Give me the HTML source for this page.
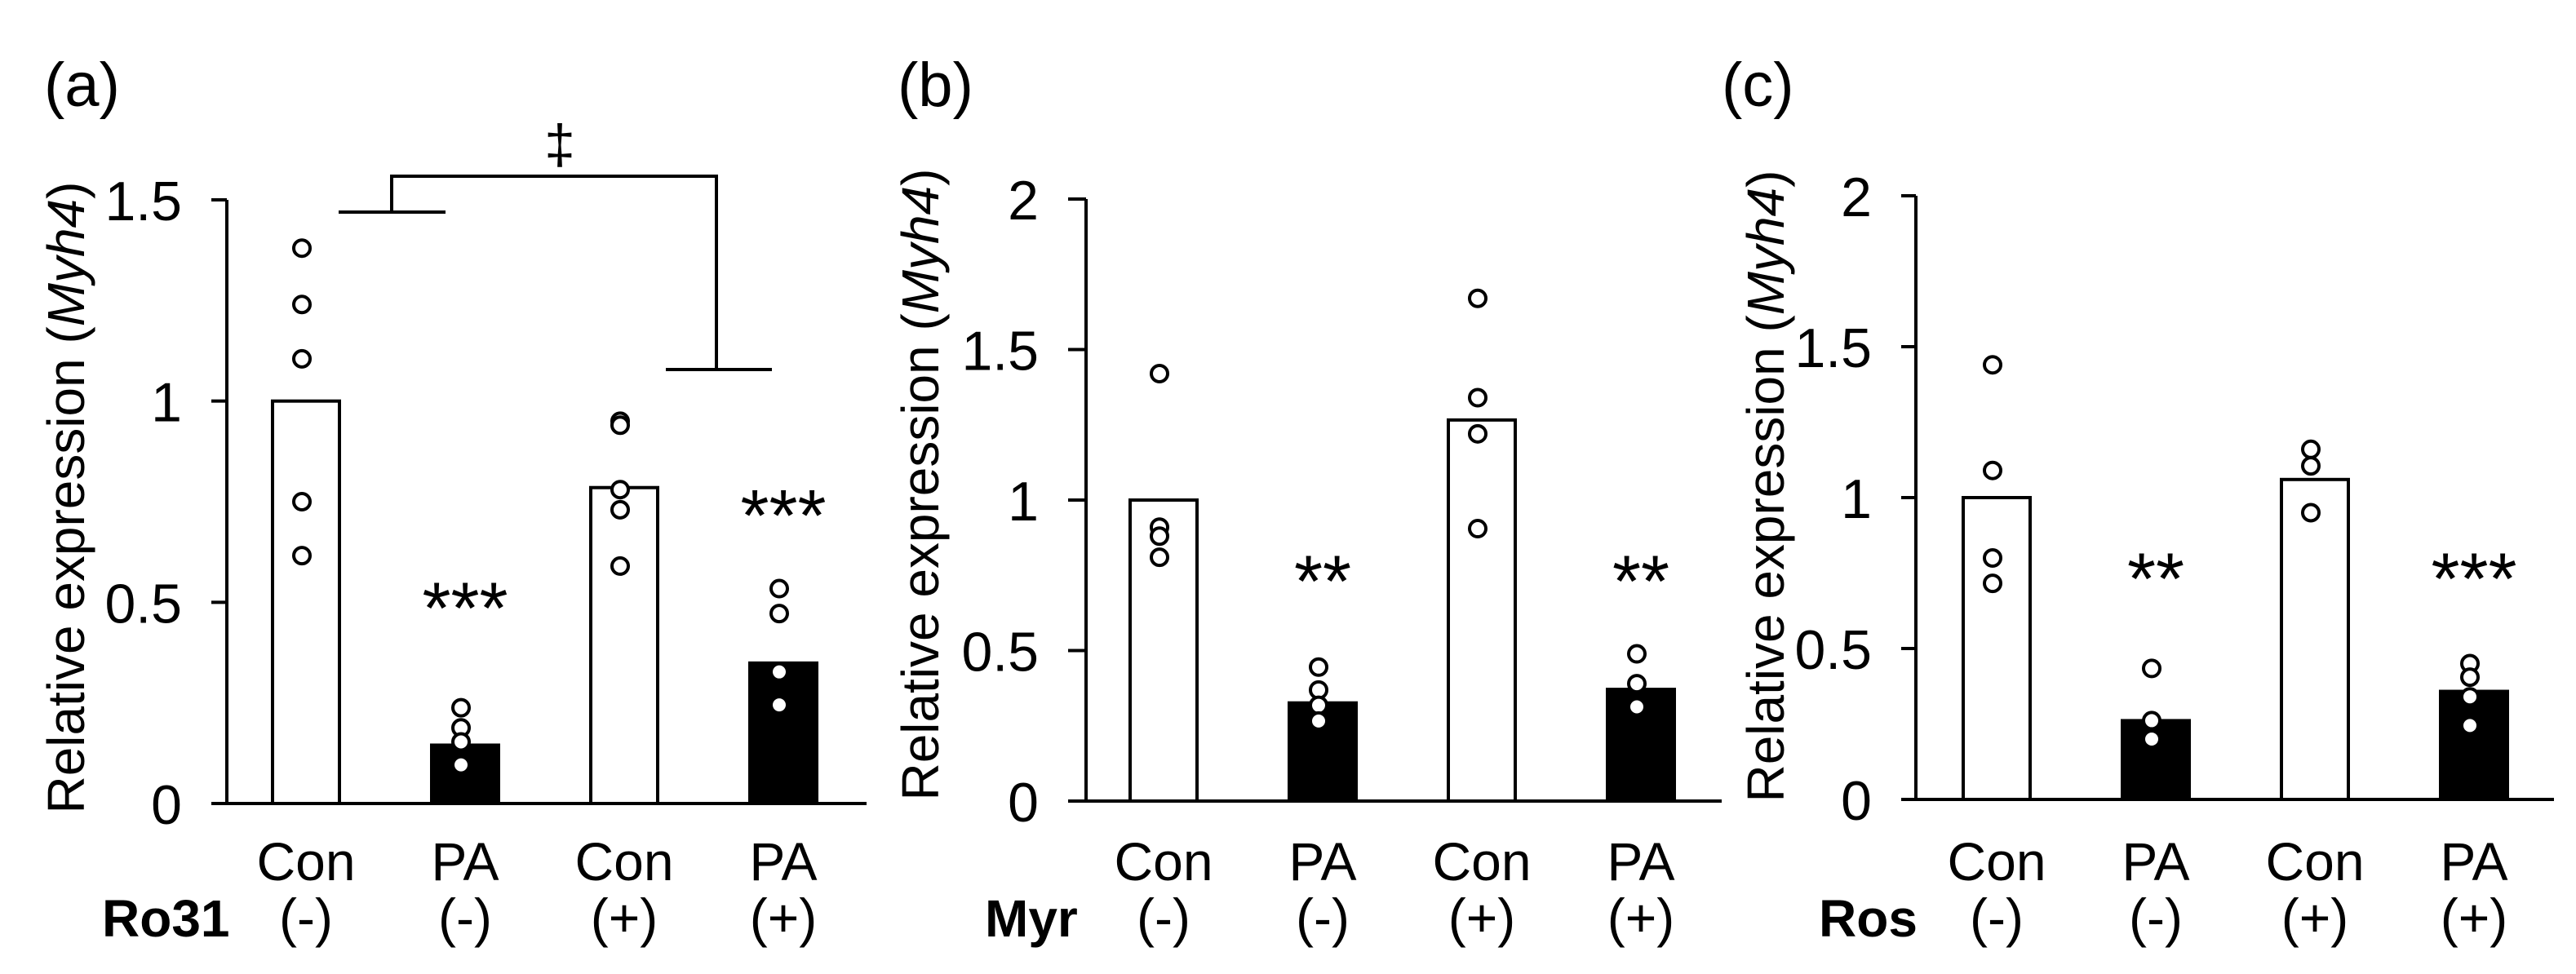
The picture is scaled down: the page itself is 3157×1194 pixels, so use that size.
<!DOCTYPE html>
<html><head><meta charset="utf-8"><style>
html,body{margin:0;padding:0;background:#fff;}
svg{display:block;font-family:"Liberation Sans",Arial,sans-serif;}
</style></head><body>
<svg id="fig" width="3157" height="1194" viewBox="0 0 3157 1194" xmlns="http://www.w3.org/2000/svg"></svg>
<script>
const categories = ["Con","PA","Con","PA"];
const treatLabels = ["(-)","(-)","(+)","(+)"];
const panelLetters = ["(a)","(b)","(c)"];
const drugNames = ["Ro31","Myr","Ros"];
const barMeansA = [1.0,0.145,0.785,0.349];
const barMeansB = [1.0,0.326,1.266,0.371];
const barMeansC = [1.0,0.261,1.06,0.358];
const pointsA = [[1.38,1.24,1.105,0.75,0.616],[0.238,0.188,0.153,0.096],[0.95,0.94,0.78,0.73,0.59],[0.534,0.472,0.327,0.245]];
const pointsB = [[1.42,0.91,0.88,0.81],[0.445,0.369,0.318,0.266],[1.67,1.34,1.22,0.905],[0.489,0.39,0.313]];
const pointsC = [[1.44,1.09,0.80,0.716],[0.434,0.261,0.20],[1.16,1.105,0.95],[0.45,0.405,0.34,0.245]];
const starsA = ["","***","","***"];
const starsB = ["","**","","**"];
const starsC = ["","**","","***"];
const starLevelsA = [0,0.5,0,0.73];
const starLevelsB = [0,0.75,0,0.75];
const starLevelsC = [0,0.75,0,0.75];
const ticksA = [0,0.5,1,1.5];
const ticksB = [0,0.5,1,1.5,2];
const ticksC = [0,0.5,1,1.5,2];
const tickLabelsA = ["0","0.5","1","1.5"];
const tickLabelsB = ["0","0.5","1","1.5","2"];
const tickLabelsC = ["0","0.5","1","1.5","2"];

const NS="http://www.w3.org/2000/svg";
const svg=document.getElementById('fig');
function mk(tag,attrs,parent){const e=document.createElementNS(NS,tag);for(const k in attrs)e.setAttribute(k,attrs[k]);(parent||svg).appendChild(e);return e;}

const layouts=[
 {ax:278,tickL:259,xEnd:1062,y0:985,yTop:245,yMax:1.5,c0:375,step:195,title:80,titleY:610,letterX:54,drugX:125},
 {ax:1331,tickL:1309,xEnd:2110,y0:982,yTop:244,yMax:2,c0:1426,step:195,title:1127,titleY:594,letterX:1100,drugX:1207},
 {ax:2348,tickL:2330,xEnd:3130,y0:980,yTop:240,yMax:2,c0:2447,step:195,title:2163,titleY:596,letterX:2110,drugX:2229}
];
const means=[barMeansA,barMeansB,barMeansC];
const pts=[pointsA,pointsB,pointsC];
const stars=[starsA,starsB,starsC];
const starLv=[starLevelsA,starLevelsB,starLevelsC];
const ticks=[ticksA,ticksB,ticksC];
const tickLabels=[tickLabelsA,tickLabelsB,tickLabelsC];
const panelNames=['panel-a','panel-b','panel-c'];

layouts.forEach((L,p)=>{
  const g=mk('g',{});
  
  
  const y=v=>L.y0-(v/L.yMax)*(L.y0-L.yTop);
  const x=i=>L.c0+i*L.step;
  const bw=82;
  means[p].forEach((m,i)=>{
    const black=i%2===1;
    const r=mk('rect',{x:x(i)-bw/2,y:y(m),width:bw,height:L.y0-y(m),fill:black?'#000':'#fff',stroke:'#000','stroke-width':4},g);
    
    
  });
  const ya=mk('line',{x1:L.ax,y1:L.yTop,x2:L.ax,y2:L.y0,stroke:'#000','stroke-width':4},g);
  
  
  const xa=mk('line',{x1:L.tickL,y1:L.y0,x2:L.xEnd,y2:L.y0,stroke:'#000','stroke-width':4},g);
  
  
  ticks[p].forEach((t,k)=>{
    mk('line',{x1:L.tickL,y1:y(t),x2:L.ax,y2:y(t),stroke:'#000','stroke-width':4},g);
    const tl=mk('text',{x:L.tickL-36,y:y(t)+25,'font-size':68,'text-anchor':'end',fill:'#000'},g);
    tl.textContent=tickLabels[p][k];
    
    
  });
  pts[p].forEach((arr,i)=>{
    arr.forEach(v=>{
      const c=mk('circle',{cx:x(i)-5,cy:y(v),r:10,fill:'#fff',stroke:'#000','stroke-width':4},g);
      
      
    });
  });
  stars[p].forEach((s,i)=>{
    if(!s)return;
    const t=mk('text',{x:x(i),y:y(starLv[p][i])+38,'font-size':90,'text-anchor':'middle',fill:'#000'},g);
    t.textContent=s;
    
    
  });
  categories.forEach((c,i)=>{
    const t=mk('text',{x:x(i),y:1079,'font-size':66,'text-anchor':'middle',fill:'#000'},g);
    t.textContent=c;
    
    
    const t2=mk('text',{x:x(i),y:1148,'font-size':66,'text-anchor':'middle',fill:'#000'},g);
    t2.textContent=treatLabels[i];
    
    
  });
  const d=mk('text',{x:L.drugX,y:1148,'font-size':64,'font-weight':'bold',fill:'#000'},g);
  d.textContent=drugNames[p];
  
  
  const pl=mk('text',{x:L.letterX,y:130,'font-size':76,fill:'#000'},g);
  pl.textContent=panelLetters[p];
  
  
  const tt=mk('text',{x:0,y:0,'font-size':64,'text-anchor':'middle',fill:'#000',transform:`translate(${L.title+23},${L.titleY}) rotate(-90)`,textLength:775,lengthAdjust:'spacingAndGlyphs'},g);
  tt.innerHTML='Relative expression (<tspan font-style="italic">Myh4</tspan>)';
  
  
});
const br=mk('polyline',{points:'415,260 546,260',fill:'none',stroke:'#000','stroke-width':4});


const br2=mk('polyline',{points:'480,260 480,216 878,216 878,453',fill:'none',stroke:'#000','stroke-width':4});


const br3=mk('polyline',{points:'816,453 946,453',fill:'none',stroke:'#000','stroke-width':4});


const dg=mk('text',{x:686,y:200,'font-size':68,'text-anchor':'middle',fill:'#000'});
dg.textContent='‡';


</script>
</body></html>
